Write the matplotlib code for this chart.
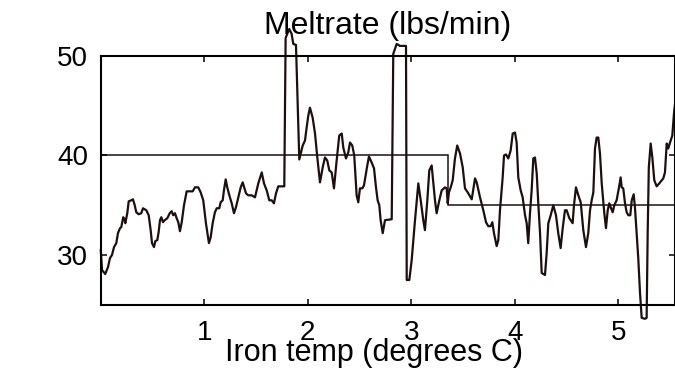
import matplotlib
matplotlib.use("Agg")
import matplotlib.pyplot as plt

plt.rcParams['font.family'] = ['Liberation Sans', 'DejaVu Sans']

# meltrate trace
temp = [0.000, 0.012, 0.043, 0.070, 0.089, 0.108, 0.128, 0.150, 0.166, 0.186,
        0.198, 0.217, 0.231, 0.237, 0.256, 0.270, 0.295, 0.311, 0.328, 0.343,
        0.366, 0.391, 0.408, 0.440, 0.463, 0.482, 0.495, 0.514, 0.527, 0.546,
        0.559, 0.572, 0.585, 0.601, 0.617, 0.643, 0.666, 0.685, 0.700, 0.717,
        0.733, 0.749, 0.765, 0.782, 0.804, 0.830, 0.862, 0.888, 0.910, 0.942,
        0.965, 0.990, 1.016, 1.045, 1.062, 1.081, 1.103, 1.120, 1.145, 1.158,
        1.178, 1.190, 1.207, 1.222, 1.242, 1.265, 1.287, 1.306, 1.329, 1.352,
        1.371, 1.403, 1.425, 1.458, 1.490, 1.522, 1.555, 1.577, 1.603, 1.628,
        1.651, 1.673, 1.693, 1.715, 1.748, 1.773, 1.786, 1.821, 1.844, 1.860,
        1.886, 1.918, 1.934, 1.951, 1.973, 1.989, 2.005, 2.021, 2.047, 2.070,
        2.092, 2.118, 2.144, 2.166, 2.188, 2.208, 2.231, 2.253, 2.279, 2.304,
        2.328, 2.343, 2.369, 2.391, 2.408, 2.430, 2.449, 2.472, 2.488, 2.504,
        2.527, 2.543, 2.559, 2.575, 2.591, 2.617, 2.640, 2.659, 2.675, 2.691,
        2.704, 2.724, 2.746, 2.811, 2.826, 2.859, 2.891, 2.949, 2.956, 2.981,
        3.004, 3.036, 3.068, 3.091, 3.116, 3.132, 3.155, 3.174, 3.197, 3.213,
        3.229, 3.245, 3.271, 3.294, 3.326, 3.342, 3.352, 3.364, 3.381, 3.400,
        3.422, 3.444, 3.471, 3.497, 3.519, 3.551, 3.584, 3.616, 3.632, 3.664,
        3.696, 3.722, 3.744, 3.767, 3.783, 3.799, 3.825, 3.841, 3.857, 3.883,
        3.896, 3.915, 3.937, 3.960, 3.980, 4.002, 4.018, 4.034, 4.057, 4.076,
        4.099, 4.115, 4.130, 4.147, 4.163, 4.179, 4.195, 4.212, 4.227, 4.244,
        4.260, 4.292, 4.308, 4.324, 4.347, 4.372, 4.398, 4.420, 4.443, 4.463,
        4.485, 4.501, 4.527, 4.559, 4.572, 4.591, 4.614, 4.637, 4.662, 4.688,
        4.710, 4.727, 4.743, 4.759, 4.775, 4.791, 4.807, 4.823, 4.840, 4.865,
        4.881, 4.898, 4.913, 4.930, 4.946, 4.961, 4.984, 5.007, 5.023, 5.033,
        5.048, 5.065, 5.081, 5.097, 5.116, 5.130, 5.149, 5.161, 5.178, 5.193,
        5.210, 5.226, 5.258, 5.274, 5.284, 5.295, 5.313, 5.329, 5.348, 5.371,
        5.396, 5.419, 5.435, 5.451, 5.468, 5.483, 5.500, 5.522, 5.538, 5.557]
meltrate = [30.5, 28.5, 28.1, 28.8, 29.7, 30.0, 30.8, 31.2, 32.2, 32.7,
            32.8, 33.8, 33.5, 33.2, 34.2, 35.4, 35.5, 35.6, 35.0, 34.3,
            34.1, 34.2, 34.7, 34.5, 34.0, 32.5, 31.2, 30.8, 31.4, 31.5,
            32.3, 33.5, 33.8, 33.3, 33.5, 33.7, 34.2, 34.4, 34.0, 34.2,
            33.7, 33.3, 32.4, 33.3, 35.0, 36.4, 36.4, 36.4, 36.8, 36.8,
            36.3, 35.5, 33.2, 31.2, 31.8, 33.2, 34.3, 34.7, 34.7, 35.3,
            35.5, 36.5, 37.6, 36.8, 36.0, 35.2, 34.2, 34.8, 35.8, 36.8,
            37.3, 36.2, 36.0, 36.0, 35.8, 37.2, 38.3, 37.2, 36.5, 35.5,
            35.5, 35.2, 36.2, 36.9, 36.9, 36.9, 51.8, 52.7, 52.2, 51.2,
            51.1, 39.6, 40.3, 41.0, 41.5, 42.8, 44.0, 44.8, 43.8, 42.2,
            39.8, 37.3, 38.8, 39.8, 39.5, 38.5, 38.3, 36.7, 39.5, 42.0,
            42.2, 40.8, 39.7, 40.3, 41.3, 41.0, 40.0, 36.0, 35.3, 36.7,
            36.7, 37.0, 38.0, 39.0, 39.9, 39.3, 38.7, 36.8, 35.5, 35.0,
            33.5, 32.2, 33.5, 33.6, 50.2, 51.2, 51.0, 51.0, 27.5, 27.5,
            29.5, 33.5, 37.2, 35.5, 33.5, 32.5, 35.5, 38.5, 39.0, 37.2,
            35.5, 34.2, 35.5, 36.5, 36.8, 36.7, 35.2, 36.3, 36.8, 37.5,
            39.7, 41.0, 40.2, 38.8, 36.7, 36.2, 35.6, 37.7, 37.3, 35.8,
            34.5, 33.3, 32.9, 32.9, 33.3, 32.2, 30.9, 31.5, 34.5, 37.8,
            40.0, 40.1, 39.7, 40.5, 42.2, 42.3, 41.3, 37.8, 36.5, 35.8,
            34.0, 33.2, 31.2, 34.2, 36.5, 39.7, 39.8, 38.2, 35.2, 32.2,
            28.2, 28.0, 30.2, 33.2, 34.0, 35.0, 34.0, 32.2, 30.7, 32.7,
            34.5, 34.5, 33.7, 33.2, 35.0, 36.8, 36.0, 35.3, 32.5, 30.8,
            32.2, 34.5, 35.5, 36.3, 40.7, 41.8, 41.8, 40.2, 37.2, 34.2,
            32.7, 34.5, 35.2, 34.7, 34.3, 35.0, 35.5, 36.8, 37.8, 36.8,
            36.7, 35.2, 34.3, 34.0, 34.0, 35.5, 36.1, 34.8, 32.0, 29.7,
            26.2, 23.7, 23.6, 23.7, 32.2, 38.8, 41.2, 39.8, 37.5, 36.9,
            37.2, 37.5, 37.7, 38.3, 41.2, 40.7, 41.3, 42.0, 44.2, 46.0]

# setpoint levels (step line)
level_edges = [0.0, 3.357, 5.55]
levels = [40, 35]

xticks = [1, 2, 3, 4, 5]
yticks = [30, 40, 50]

ink = '#1e0f0f'

fig = plt.figure(figsize=(6.75, 3.7), dpi=100)
ax = fig.add_axes([0.1493, 0.176, 0.8507, 0.673])

ax.stairs(levels, level_edges, baseline=None, color=ink, linewidth=1.1)
ax.plot(temp, meltrate, color=ink, linewidth=1.6, clip_on=False)

ax.set_xlim(0, 5.548)
ax.set_ylim(25, 49.9)
ax.set_xticks(xticks)
ax.set_yticks(yticks)
ax.tick_params(direction='in', length=4, width=1.1, top=True, right=True,
               labelsize=20, colors='black')
ax.tick_params(axis='x', pad=11)
ax.tick_params(axis='y', pad=9)
for s in ax.spines.values():
    s.set_linewidth(1.5)
    s.set_color('black')

ax.set_title('Meltrate (lbs/min)', fontsize=23, pad=16)
ax.set_xlabel('Iron temp (degrees C)', fontsize=22)
ax.xaxis.set_label_coords(0.476, -0.135)

fig.savefig('out.png', dpi=100)
